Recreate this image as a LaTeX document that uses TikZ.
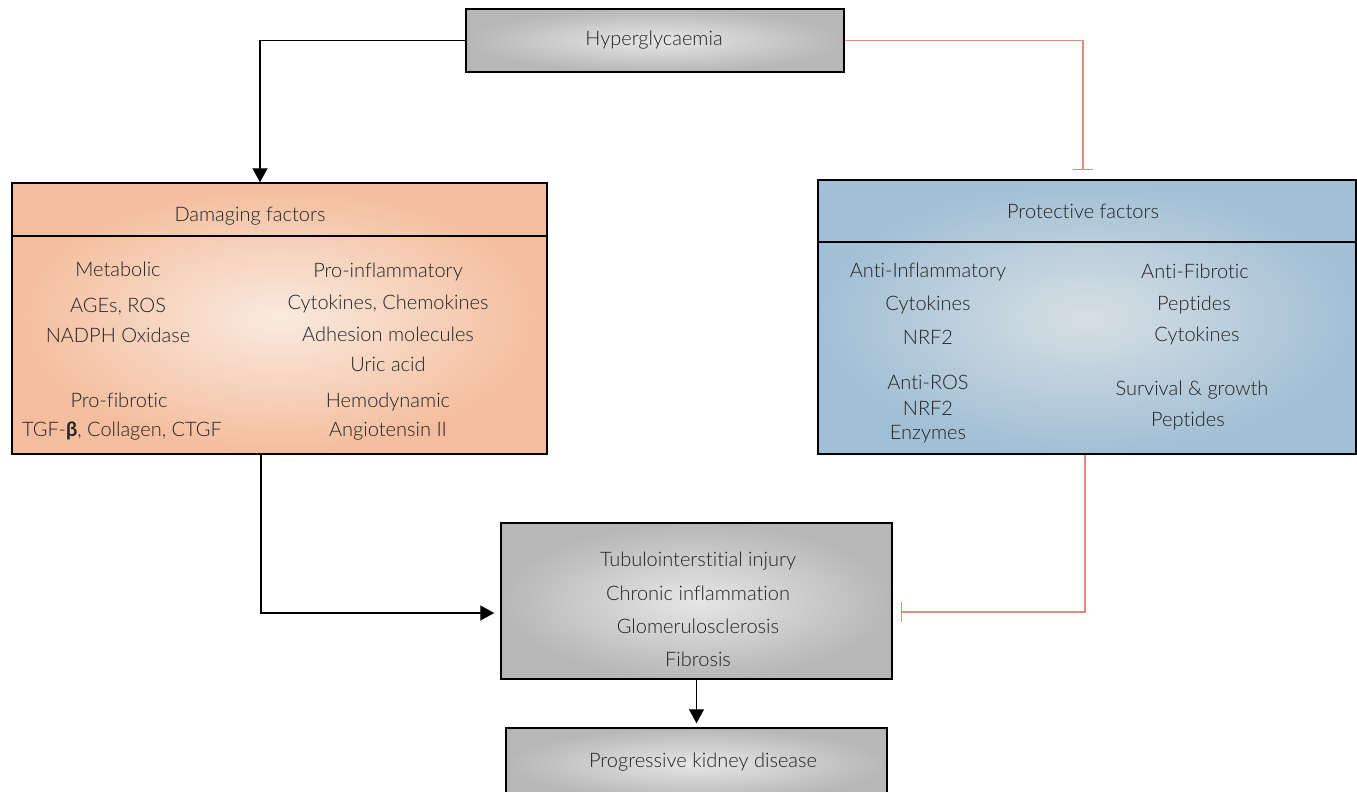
\documentclass[tikz,border=0pt]{standalone}
\usepackage{fontspec}
\setmainfont{Lato}[UprightFont=* Light,BoldFont=* Bold,Ligatures=NoCommon]
\usetikzlibrary{arrows.meta,calc}
\definecolor{txt}{HTML}{222222}
\definecolor{grayin}{HTML}{E6E6E6}
\definecolor{grayout}{HTML}{B7B7B7}
\definecolor{dmgin}{HTML}{F9EADF}
\definecolor{dmgout}{HTML}{F4BD9D}
\definecolor{protin}{HTML}{D6DFE3}
\definecolor{protout}{HTML}{A2BFD5}
\definecolor{inhred}{HTML}{E28A7C}
\begin{document}
\begin{tikzpicture}[x=1pt,y=-1pt,
  box/.style={draw=black,line width=1.5pt,inner sep=0pt,shading=radial},
  graybox/.style={box,inner color=grayin,outer color=grayout},
  dmgbox/.style={box,inner color=dmgin,outer color=dmgout},
  protbox/.style={box,inner color=protin,outer color=protout},
  lbl/.style={anchor=base,text=txt,font=\fontsize{20}{24}\selectfont,inner sep=0pt},
  arr/.style={draw=black,line width=1.4pt,-{Triangle[width=15pt,length=14pt]}},
  inh/.style={draw=inhred,line width=1.5pt,-{Bar[width=20pt]}},
  sep/.style={draw=black,line width=1.5pt}
]
\useasboundingbox (0,0) rectangle (1357,792);

% boxes
\node[graybox,minimum width=378pt,minimum height=63pt] (hyp) at (655,40.5) {};
\node[dmgbox,minimum width=535pt,minimum height=271pt] (dmg) at (279.5,318.5) {};
\node[protbox,minimum width=538pt,minimum height=274pt] (prot) at (1087,317) {};
\node[graybox,minimum width=391pt,minimum height=156pt] (cen) at (696.5,601) {};
\node[graybox,minimum width=381pt,minimum height=72pt] (prog) at (696.5,764) {};

% header separators
\coordinate (hd1) at (0,236);
\coordinate (hd2) at (0,242);
\draw[sep] (dmg.west |- hd1) -- (dmg.east |- hd1);
\draw[sep] (prot.west |- hd2) -- (prot.east |- hd2);

% texts
\node[lbl] (thyp) at (654,46) {Hyperglycaemia};

\node[lbl] (tdmg) at (250,221) {Damaging factors};
\node[lbl] (d1) at (118,276) {Metabolic};
\node[lbl] (d2) at (118,312) {AGEs, ROS};
\node[lbl] (d3) at (118,342) {NADPH Oxidase};
\node[lbl] (d4) at (119,407) {Pro-fibrotic};
\node[lbl] (d5) at (122,436) {TGF-{\bfseries β}, Collagen, CTGF};
\node[lbl] (d6) at (388,277) {Pro-inflammatory};
\node[lbl] (d7) at (388,309) {Cytokines, Chemokines};
\node[lbl] (d8) at (388,341) {Adhesion molecules};
\node[lbl] (d9) at (388,371) {Uric acid};
\node[lbl] (d10) at (388,407) {Hemodynamic};
\node[lbl] (d11) at (388,436) {Angiotensin II};

\node[lbl] (tprot) at (1083,218) {Protective factors};
\node[lbl] (p1) at (928,277) {Anti-Inflammatory};
\node[lbl] (p2) at (928,310) {Cytokines};
\node[lbl] (p3) at (928,344) {NRF2};
\node[lbl] (p4) at (928,389) {Anti-ROS};
\node[lbl] (p5) at (928,415) {NRF2};
\node[lbl] (p6) at (928,439) {Enzymes};
\node[lbl] (p7) at (1195,278) {Anti-Fibrotic};
\node[lbl] (p8) at (1194,310) {Peptides};
\node[lbl] (p9) at (1197,341) {Cytokines};
\node[lbl] (p10) at (1192,395) {Survival \& growth};
\node[lbl] (p11) at (1188,426) {Peptides};

\node[lbl] (c1) at (698,566) {Tubulointerstitial injury};
\node[lbl] (c2) at (698,600) {Chronic inflammation};
\node[lbl] (c3) at (698,633) {Glomerulosclerosis};
\node[lbl] (c4) at (698,666) {Fibrosis};

\node[lbl] (tprog) at (703,767) {Progressive kidney disease};

% connectors
\coordinate (dmgx) at (260,0);
\coordinate (protx) at (1083,0);
\coordinate (dmgdown) at (261,0);
\coordinate (protdown) at (1085,0);
\coordinate (cy1) at (0,613);
\coordinate (cy2) at (0,612);
\draw[arr] (hyp.west) -| (dmg.north -| dmgx);
\draw[inh,shorten >=9pt] (hyp.east) -| (prot.north -| protx);
\draw[arr,shorten >=6pt] (dmg.south -| dmgdown) |- (cen.west |- cy1);
\draw[inh,shorten >=8pt] (prot.south -| protdown) |- (cen.east |- cy2);
\draw[arr,shorten >=4pt] (cen.south) -- (prog.north);
\end{tikzpicture}
\end{document}
